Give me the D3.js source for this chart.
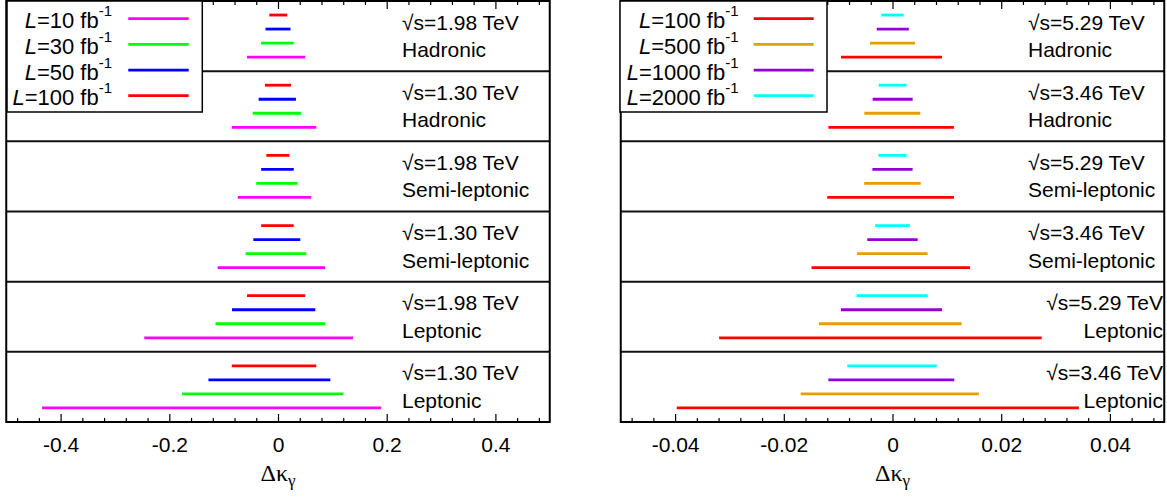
<!DOCTYPE html>
<html><head><meta charset="utf-8">
<script src="https://cdn.jsdelivr.net/npm/d3@7"></script>
<style>
body{margin:0;background:#fff;}
text{font-family:"Liberation Sans",Arial,sans-serif;fill:#000;}
</style></head>
<body>
<svg id="chart" width="1167" height="497"></svg>
<script>
// ---------- data ----------
const channels = ["Hadronic","Hadronic","Semi-leptonic","Semi-leptonic","Leptonic","Leptonic"];
const leftEnergy = ["1.98","1.30","1.98","1.30","1.98","1.30"];
const rightEnergy = ["5.29","3.46","5.29","3.46","5.29","3.46"];

// left panel series (drawn top-to-bottom within each row)
const leftLum = ["100","50","30","10"];
const leftColors = ["#ff0000","#0000ff","#00ff00","#ff00ff"];
const leftL100Low  = [-0.016,-0.024,-0.0215,-0.031,-0.057,-0.085];
const leftL100High = [0.017,0.024,0.021,0.029,0.050,0.0705];
const leftL50Low   = [-0.023,-0.0356,-0.031,-0.0454,-0.0846,-0.128];
const leftL50High  = [0.023,0.033,0.029,0.041,0.0687,0.0963];
const leftL30Low   = [-0.031,-0.0466,-0.040,-0.0595,-0.115,-0.1766];
const leftL30High  = [0.029,0.0423,0.036,0.052,0.0865,0.120];
const leftL10Low   = [-0.057,-0.085,-0.074,-0.111,-0.246,-0.434];
const leftL10High  = [0.050,0.0705,0.061,0.0865,0.138,0.1895];

// right panel series (drawn top-to-bottom within each row)
const rightLum = ["2000","1000","500","100"];
const rightColors = ["#00ffff","#9400d3","#e69f00","#ff0000"];
const rightL2000Low  = [-0.00206,-0.00254,-0.0026,-0.0032,-0.00659,-0.00832];
const rightL2000High = [0.00206,0.00261,0.0026,0.0032,0.00647,0.00813];
const rightL1000Low  = [-0.0029,-0.00365,-0.0037,-0.00464,-0.00948,-0.0118];
const rightL1000High = [0.003,0.00371,0.0037,0.00464,0.00911,0.01137];
const rightL500Low   = [-0.00414,-0.00518,-0.0052,-0.00653,-0.01353,-0.0169];
const rightL500High  = [0.00414,0.00512,0.0052,0.00647,0.01273,0.0159];
const rightL100Low   = [-0.00948,-0.0118,-0.012,-0.0149,-0.0319,-0.0397];
const rightL100High  = [0.00911,0.0113,0.0113,0.01426,0.02745,0.0343];

// tick labels
const leftTicks = [-0.4,-0.2,0,0.2,0.4];
const leftTickLabels = ["-0.4","-0.2","0","0.2","0.4"];
const rightTicks = [-0.04,-0.02,0,0.02,0.04];
const rightTickLabels = ["-0.04","-0.02","0","0.02","0.04"];

// legend order (top to bottom)
const leftLegendLum = ["10","30","50","100"];
const leftLegendColors = ["#ff00ff","#00ff00","#0000ff","#ff0000"];
const rightLegendLum = ["100","500","1000","2000"];
const rightLegendColors = ["#ff0000","#e69f00","#9400d3","#00ffff"];

// ---------- drawing ----------
const svg = d3.select("#chart");
const y = d3.scaleLinear().domain([0,6]).range([1,422]);

function panel(cfg){
  const x = d3.scaleLinear().domain(cfg.domain).range(cfg.range);
  const g = svg.append("g");
  const [x0,x1] = cfg.range;

  // bars
  cfg.series.forEach((s,k)=>{
    g.append("g").selectAll("line").data(s.low).join("line")
      .attr("x1",(d)=>x(d))
      .attr("x2",(d,i)=>x(s.high[i]))
      .attr("y1",(d,i)=>y(i+(k+1)/5))
      .attr("y2",(d,i)=>y(i+(k+1)/5))
      .attr("stroke",s.color).attr("stroke-width",2.8);
  });

  // row dividers
  g.append("g").selectAll("line").data(d3.range(1,6)).join("line")
    .attr("x1",x0).attr("x2",x1).attr("y1",d=>y(d)).attr("y2",d=>y(d))
    .attr("stroke","#111").attr("stroke-width",2);

  // ticks
  const minors = cfg.minors.filter(v=>!cfg.ticks.some(t=>Math.abs(t-v)<1e-9));
  const bottomMinor = d3.axisBottom(x).tickValues(minors).tickSize(-4).tickFormat("");
  const topMinor = d3.axisTop(x).tickValues(minors).tickSize(-4).tickFormat("");
  const bottomMajor = d3.axisBottom(x).tickValues(cfg.ticks).tickSize(-8).tickPadding(15)
      .tickFormat((d,i)=>cfg.labels[i]);
  const topMajor = d3.axisTop(x).tickValues(cfg.ticks).tickSize(-8).tickFormat("");
  [[bottomMinor,422],[bottomMajor,422],[topMinor,1],[topMajor,1]].forEach(([ax,yy])=>{
    const a = g.append("g").attr("transform",`translate(0,${yy})`).call(ax);
    a.select(".domain").remove();
    a.selectAll(".tick line").attr("stroke","#000").attr("stroke-width",1.2);
    a.selectAll(".tick text").attr("font-size",21).attr("font-family","Liberation Sans, Arial, sans-serif");
  });

  // frame
  g.append("rect").attr("x",x0).attr("y",1).attr("width",x1-x0).attr("height",421)
    .attr("fill","none").attr("stroke","#000").attr("stroke-width",2);

  // annotations
  cfg.energy.forEach((e,i)=>{
    const right = cfg.rightAlign[i];
    const tx = right ? cfg.annRight : cfg.annLeft;
    const anchor = right ? "end" : "start";
    g.append("text").attr("x",tx).attr("y",y(i)+28.5).attr("font-size",21)
      .attr("text-anchor",anchor).text(`\u221As=${e} TeV`);
    g.append("text").attr("x",tx).attr("y",y(i)+56).attr("font-size",21)
      .attr("text-anchor",anchor).text(channels[i]);
  });

  // axis title
  const t = g.append("text").attr("x",x(0)).attr("y",481).attr("text-anchor","middle")
    .attr("font-size",24).style("font-family","Liberation Serif, Times New Roman, serif");
  t.append("tspan").text("\u0394\u03ba");
  t.append("tspan").attr("font-size",17).attr("dy",5).text("\u03b3");

  // legend
  const lg = svg.append("g");
  lg.append("rect").attr("x",cfg.legend.x0).attr("y",1).attr("width",cfg.legend.x1-cfg.legend.x0)
    .attr("height",111).attr("fill","#fff").attr("stroke","#000").attr("stroke-width",1.5);
  cfg.legend.lum.forEach((l,i)=>{
    const ly = 18.7 + i*25.67;
    lg.append("line").attr("x1",cfg.legend.lx0).attr("x2",cfg.legend.lx1)
      .attr("y1",ly).attr("y2",ly).attr("stroke",cfg.legend.colors[i]).attr("stroke-width",2.8);
    const tx = lg.append("text").attr("x",cfg.legend.tx).attr("y",ly+9.6)
      .attr("text-anchor","end").attr("font-size",22);
    tx.append("tspan").attr("font-style","italic").text("L");
    tx.append("tspan").text(`=${l} fb`);
    tx.append("tspan").attr("font-size",15).attr("dy",-12).text("-1");
  });
}

panel({
  domain:[-0.5,0.5], range:[6.25,549.75],
  ticks:leftTicks, labels:leftTickLabels, minors:d3.range(-12,13).map(i=>i*0.04),
  series:[
    {low:leftL100Low,high:leftL100High,color:leftColors[0]},
    {low:leftL50Low,high:leftL50High,color:leftColors[1]},
    {low:leftL30Low,high:leftL30High,color:leftColors[2]},
    {low:leftL10Low,high:leftL10High,color:leftColors[3]}
  ],
  energy:leftEnergy, rightAlign:[false,false,false,false,false,false],
  annLeft:402, annRight:548,
  legend:{x0:7,x1:202.3,lx0:128.3,lx1:188.7,tx:112,lum:leftLegendLum,colors:leftLegendColors}
});
panel({
  domain:[-0.05,0.05], range:[620.75,1164.25],
  ticks:rightTicks, labels:rightTickLabels, minors:d3.range(-12,13).map(i=>i*0.004),
  series:[
    {low:rightL2000Low,high:rightL2000High,color:rightColors[0]},
    {low:rightL1000Low,high:rightL1000High,color:rightColors[1]},
    {low:rightL500Low,high:rightL500High,color:rightColors[2]},
    {low:rightL100Low,high:rightL100High,color:rightColors[3]}
  ],
  energy:rightEnergy, rightAlign:[false,false,false,false,true,true],
  annLeft:1028, annRight:1163,
  legend:{x0:620,x1:827,lx0:753.7,lx1:813.7,tx:738.5,lum:rightLegendLum,colors:rightLegendColors}
});
</script>
</body></html>
